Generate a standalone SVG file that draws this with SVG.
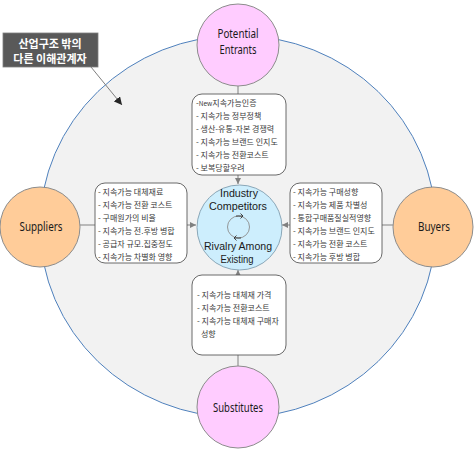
<svg xmlns="http://www.w3.org/2000/svg" width="475" height="450" viewBox="0 0 475 450">
<defs>
<style>
.node{stroke:#8c8c8c;stroke-width:1}
.lbl{font-family:"Noto Sans","Open Sans",sans-serif;font-size:12.5px;fill:#1a1a1a;text-anchor:middle}
.clbl{font-family:"Liberation Sans",Arial,sans-serif;font-size:11.5px;fill:#1a1a1a;text-anchor:middle}
.box{fill:#fff;stroke:#595959;stroke-width:0.9}
.kt{font-family:"Noto Sans CJK KR","Noto Sans",sans-serif;font-size:8px;fill:#3a3a3a}
.con{stroke:#808080;stroke-width:1;fill:none}
.ct{font-family:"Noto Sans CJK KR","Noto Sans",sans-serif;font-size:11px;font-weight:bold;fill:#fff;text-anchor:middle}
</style>
<marker id="ah" viewBox="0 0 10 10" refX="10" refY="5" markerWidth="6" markerHeight="6" orient="auto" markerUnits="userSpaceOnUse">
<path d="M0,0 L10,5 L0,10 z" fill="#808080"/>
</marker>
<marker id="ahd" viewBox="0 0 10 10" refX="10" refY="5" markerWidth="8" markerHeight="8" orient="auto" markerUnits="userSpaceOnUse">
<path d="M0,0 L10,5 L0,10 z" fill="#262626"/>
</marker>
</defs>
<rect width="475" height="450" fill="#fff"/>
<ellipse cx="238" cy="226.5" rx="198" ry="191" fill="#f2f2f2" stroke="#4f81bd" stroke-width="1"/>

<g id="connectors">
<line class="con" x1="238" y1="86" x2="238" y2="94"/>
<line class="con" x1="238" y1="175" x2="238" y2="184" marker-end="url(#ah)"/>
<line class="con" x1="80" y1="225" x2="95" y2="225"/>
<line class="con" x1="187" y1="225" x2="196" y2="225" marker-end="url(#ah)"/>
<line class="con" x1="393" y1="225" x2="382" y2="225"/>
<line class="con" x1="290" y1="225" x2="282" y2="225" marker-end="url(#ah)"/>
<line class="con" x1="238" y1="366" x2="238" y2="355"/>
<line class="con" x1="238" y1="275" x2="238" y2="270" marker-end="url(#ah)"/>
<line x1="91" y1="67" x2="122" y2="105" stroke="#7f7f7f" stroke-width="1" marker-end="url(#ahd)"/>
</g>

<g id="entrants">
<circle class="node" cx="238" cy="45" r="41" fill="#ffccff"/>
<text class="lbl" x="238" y="38" textLength="41" lengthAdjust="spacingAndGlyphs">Potential</text>
<text class="lbl" x="238" y="54" textLength="37" lengthAdjust="spacingAndGlyphs">Entrants</text>
</g>
<g id="substitutes">
<circle class="node" cx="238" cy="407" r="41" fill="#ffccff"/>
<text class="lbl" x="238" y="412" textLength="50" lengthAdjust="spacingAndGlyphs">Substitutes</text>
</g>
<g id="suppliers">
<circle class="node" cx="40" cy="227" r="40" fill="#ffcc99"/>
<text class="lbl" x="41" y="231" textLength="43" lengthAdjust="spacingAndGlyphs">Suppliers</text>
</g>
<g id="buyers">
<circle class="node" cx="433" cy="227" r="40" fill="#ffcc99"/>
<text class="lbl" x="434" y="231" textLength="32" lengthAdjust="spacingAndGlyphs">Buyers</text>
</g>
<g id="competitors">
<circle cx="239.5" cy="227.5" r="42.5" fill="#cdeefd" stroke="#8aa7b8" stroke-width="1"/>
<circle cx="238.5" cy="227" r="11" fill="none" stroke="#8c8c8c" stroke-width="0.9"/>
<path d="M236,216 L243,216 M240.5,213.5 L243,216 L240.5,218.5" fill="none" stroke="#333" stroke-width="0.9"/>
<path d="M241,238 L234,238 M236.5,235.5 L234,238 L236.5,240.5" fill="none" stroke="#333" stroke-width="0.9"/>
<text class="clbl" x="239" y="197" textLength="38" lengthAdjust="spacingAndGlyphs">Industry</text>
<text class="clbl" x="238" y="210" textLength="58" lengthAdjust="spacingAndGlyphs">Competitors</text>
<text class="clbl" x="238" y="250" textLength="68" lengthAdjust="spacingAndGlyphs">Rivalry Among</text>
<text class="clbl" x="237" y="263" textLength="33" lengthAdjust="spacingAndGlyphs">Existing</text>
</g>

<g id="box-entrants">
<rect class="box" x="192" y="94" width="94" height="81" rx="10"/>
<text class="kt" x="196" y="106">-<tspan font-size="6.5px">New</tspan>지속가능인증</text>
<text class="kt" x="196" y="119">- 지속가능 정부정책</text>
<text class="kt" x="196" y="132">- 생산-유통-자본 경쟁력</text>
<text class="kt" x="196" y="145">- 지속가능 브랜드 인지도</text>
<text class="kt" x="196" y="158">- 지속가능 전환코스트</text>
<text class="kt" x="196" y="171">- 보복당할우려</text>
</g>
<g id="box-suppliers">
<rect class="box" x="95" y="183" width="92" height="80" rx="10"/>
<text class="kt" x="98" y="195">- 지속가능 대체재료</text>
<text class="kt" x="98" y="208">- 지속가능 전환 코스트</text>
<text class="kt" x="98" y="221">- 구매원가의 비율</text>
<text class="kt" x="98" y="234">- 지속가능 전.후방 병합</text>
<text class="kt" x="98" y="247">- 공급자 규모.집중정도</text>
<text class="kt" x="98" y="260">- 지속가능 차별화 영향</text>
</g>
<g id="box-buyers">
<rect class="box" x="290" y="183" width="92" height="80" rx="10"/>
<text class="kt" x="293" y="195">- 지속가능 구매성향</text>
<text class="kt" x="293" y="208">- 지속가능 제품 차별성</text>
<text class="kt" x="293" y="221">- 통합구매품질실적영향</text>
<text class="kt" x="293" y="234">- 지속가능 브랜드 인지도</text>
<text class="kt" x="293" y="247">- 지속가능 전환 코스트</text>
<text class="kt" x="293" y="260">- 지속가능 후방 병합</text>
</g>
<g id="box-substitutes">
<rect class="box" x="192" y="275" width="94" height="80" rx="10"/>
<text class="kt" x="197" y="298">- 지속가능 대체재 가격</text>
<text class="kt" x="197" y="311">- 지속가능 전환코스트</text>
<text class="kt" x="197" y="324">- 지속가능 대체재 구매자</text>
<text class="kt" x="201" y="337">성향</text>
</g>

<g id="callout">
<rect x="3" y="33" width="95" height="34" fill="#595959" stroke="#7f7f7f" stroke-width="0.8"/>
<text class="ct" x="50" y="48">산업구조 밖의</text>
<text class="ct" x="50" y="63">다른 이해관계자</text>
</g>
</svg>
